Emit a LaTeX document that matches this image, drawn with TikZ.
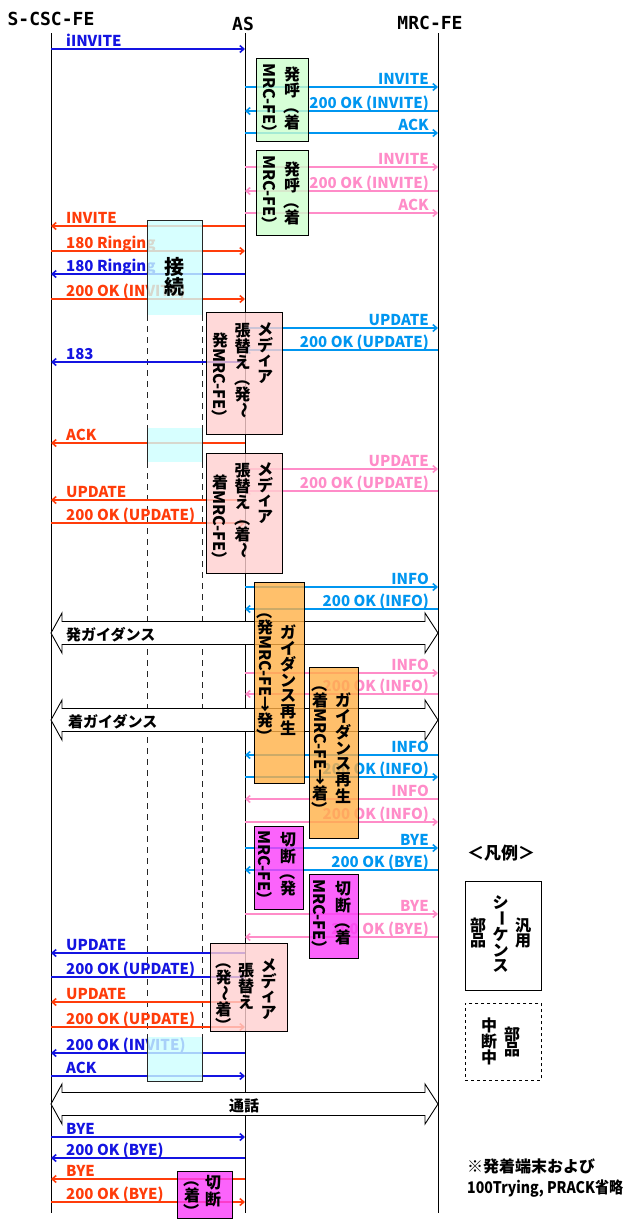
\documentclass[tikz,border=0pt]{standalone}
\usepackage{graphicx}
\usepackage{fontspec}
\setmainfont{Noto Sans CJK JP}
\newfontfamily\hdfont{DejaVu Sans Mono}
\usetikzlibrary{arrows.meta}

\definecolor{dblue}{RGB}{20,20,225}
\definecolor{lblue}{RGB}{0,150,240}
\definecolor{pink}{RGB}{255,140,200}
\definecolor{ored}{RGB}{255,60,10}
\definecolor{gfill}{RGB}{205,255,205}
\definecolor{cfill}{RGB}{205,255,255}
\definecolor{pfill}{RGB}{255,208,208}
\definecolor{ofill}{RGB}{255,176,70}
\definecolor{mfill}{RGB}{250,60,250}

\newcommand\labfont{\bfseries\fontsize{15}{18}\selectfont}
\newcommand\boxfont{\bfseries\fontsize{16}{19}\selectfont}
% vertical writing: upright char, rotated run, one column
\newcommand\vc[1]{\hbox to 1em{\hss\vbox to 1em{\vss\hbox{#1}\vss}\hss}}
\newcommand\vr[1]{\hbox to 1em{\hss\vbox{\hbox{\rotatebox[origin=c]{-90}{#1}}\kern0pt}\hss}}
\newcommand\tcol[2]{\vtop{\kern#1\offinterlineskip#2}}

\begin{document}
\begin{tikzpicture}
   [
      x=1pt, y=-1pt,
      >={Straight Barb[length=4pt,width=7pt]},
      lane/.style={line width=1pt},
      frame/.style={line width=0.9pt, black!85},
      msg/.style={->, line width=1.6pt},
      lab/.style={font=\labfont, inner sep=0pt},
      head/.style={font=\hdfont\bfseries\fontsize{18}{20}\selectfont, inner sep=0pt},
      part/.style={draw, line width=0.9pt, fill opacity=0.8, inner sep=0pt, anchor=north west},
      tate/.style={font=\boxfont, inner sep=0pt, anchor=north},
      big/.style={draw, line width=0.9pt, fill=white}
   ]
   \useasboundingbox (0,0) rectangle (632,1219);

   \node[head] (cschead) at (51,19) {S-CSC-FE};
   \node[head] (ashead) at (243,24) {AS};
   \node[head] (mrchead) at (430,23) {MRC-FE};

   \coordinate (csc) at (51,33);
   \coordinate (as) at (245,33);
   \coordinate (mrc) at (438,33);
   \foreach \n in {csc,as,mrc}
      \draw[lane] (\n) -- (\n |- 0,1213);

   \draw[frame, dash pattern=on 6pt off 5pt] (147,315) -- (147,428) (202,315) -- (202,428)
      (147,462) -- (147,1037) (202,462) -- (202,1037);

   \foreach \y/\src/\dst/\col/\txt [count=\i] in {49/csc/as/dblue/iINVITE,
      226/as/csc/ored/INVITE, 251/csc/as/ored/180 Ringing, 274/as/csc/dblue/180 Ringing,
      299/csc/as/ored/200 OK (INVITE), 362/as/csc/dblue/183, 443/as/csc/ored/ACK,
      500/as/csc/ored/UPDATE, 523/csc/as/ored/200 OK (UPDATE),
      953/as/csc/dblue/UPDATE, 977/csc/as/dblue/200 OK (UPDATE),
      1002/as/csc/ored/UPDATE, 1027/csc/as/ored/200 OK (UPDATE),
      1053/as/csc/dblue/200 OK (INVITE), 1076/csc/as/dblue/ACK,
      1137/csc/as/dblue/BYE, 1158/as/csc/dblue/200 OK (BYE),
      1179/as/csc/ored/BYE, 1202/csc/as/ored/200 OK (BYE)} {
      \draw[msg,\col] (\src |- 0,\y) -- (\dst |- 0,\y);
      \node[lab,\col,anchor=base west] (ml\i) at (66,\y-3) {\txt};
   }

   \foreach \y/\src/\dst/\col/\txt [count=\i] in {87/as/mrc/lblue/INVITE,
      111/mrc/as/lblue/200 OK (INVITE), 133/as/mrc/lblue/ACK,
      167/as/mrc/pink/INVITE, 191/mrc/as/pink/200 OK (INVITE), 213/as/mrc/pink/ACK,
      328/as/mrc/lblue/UPDATE, 350/mrc/as/lblue/200 OK (UPDATE),
      469/as/mrc/pink/UPDATE, 491/mrc/as/pink/200 OK (UPDATE),
      587/as/mrc/lblue/INFO, 609/mrc/as/lblue/200 OK (INFO),
      673/as/mrc/pink/INFO, 694/mrc/as/pink/200 OK (INFO),
      755/mrc/as/lblue/INFO, 777/as/mrc/lblue/200 OK (INFO),
      799/mrc/as/pink/INFO, 822/as/mrc/pink/200 OK (INFO),
      848/as/mrc/lblue/BYE, 870/mrc/as/lblue/200 OK (BYE),
      914/as/mrc/pink/BYE, 937/mrc/as/pink/200 OK (BYE)} {
      \draw[msg,\col] (\src |- 0,\y) -- (\dst |- 0,\y);
      \node[lab,\col,anchor=base east] (mr\i) at (429,\y-3) {\txt};
   }

   \foreach \y in {633,720,1104}
      \draw[big] (51,\y) -- (62,\y-20) -- (62,\y-11.5) -- (425,\y-11.5) -- (425,\y-20)
         -- (438,\y) -- (425,\y+20) -- (425,\y+11.5) -- (62,\y+11.5) -- (62,\y+20) -- cycle;
   \node[lab, anchor=base west] (guide1l) at (66,640) {発ガイダンス};
   \node[lab, anchor=base west] (guide2l) at (68,727) {着ガイダンス};
   \node[lab, anchor=base] (talkl) at (244,1111) {通話};

   \node[part, fill=gfill, minimum width=52, minimum height=83] (call1) at (256,58) {};
   \node[part, fill=gfill, minimum width=52, minimum height=85] (call2) at (256,150) {};
   \node[part, fill=cfill, draw=none, minimum width=55, minimum height=95] (conn1) at (147,220) {};
   \node[part, fill=cfill, draw=none, minimum width=55, minimum height=34] (conn2) at (147,428) {};
   \node[part, fill=cfill, draw=none, minimum width=55, minimum height=44] (conn3) at (147,1037) {};
   \node[part, fill=pfill, minimum width=76, minimum height=122] (media1) at (206,312) {};
   \node[part, fill=pfill, minimum width=76, minimum height=120] (media2) at (206,453) {};
   \node[part, fill=ofill, minimum width=50, minimum height=201] (guide1) at (254,582) {};
   \node[part, fill=ofill, minimum width=49, minimum height=171] (guide2) at (309,667) {};
   \node[part, fill=mfill, minimum width=49, minimum height=83] (cut1) at (254,826) {};
   \node[part, fill=mfill, minimum width=49, minimum height=84] (cut2) at (309,874) {};
   \node[part, fill=pfill, minimum width=77, minimum height=88] (media3) at (210,943) {};
   \node[part, fill=mfill, minimum width=55, minimum height=47] (cut3) at (177,1171) {};

   \draw[frame] (147,315) -- (147,220) -- (202,220) -- (202,315)
      (147,428) -- (147,462) (202,428) -- (202,462)
      (147,1037) -- (147,1081) -- (202,1081) -- (202,1037);

   \node[tate] (call1t) at (281,63) {\tcol{0pt}{\vr{MRC-FE）}}\kern6pt\tcol{3pt}{\vc{発}\vc{呼}\vr{（}\vc{着}}};
   \node[tate] (call2t) at (281,155) {\tcol{0pt}{\vr{MRC-FE）}}\kern6pt\tcol{6pt}{\vc{発}\vc{呼}\vr{（}\vc{着}}};
   \node[tate, font=\bfseries\fontsize{20}{24}\selectfont] (conn1t) at (174,257) {\tcol{0pt}{\vc{接}\vc{続}}};
   \node[tate] (media1t) at (242.5,321) {\tcol{11pt}{\vc{発}\vr{MRC-FE）}}\kern6.5pt\tcol{1pt}{\vc{張}\vc{替}\vc{え}\vr{（}\vc{発}\vr{〜}}\kern6.5pt\tcol{0pt}{\vc{メ}\vc{デ}\vc{ィ}\vc{ア}}};
   \node[tate] (media2t) at (242.5,461) {\tcol{13pt}{\vc{着}\vr{MRC-FE）}}\kern6.5pt\tcol{1pt}{\vc{張}\vc{替}\vc{え}\vr{（}\vc{着}\vr{〜}}\kern6.5pt\tcol{0pt}{\vc{メ}\vc{デ}\vc{ィ}\vc{ア}}};
   \node[tate] (guide1t) at (276.5,603) {\tcol{0pt}{\vr{（}\vc{発}\vr{MRC-FE}\vc{↓}\vc{発}\vr{）}}\kern7pt\tcol{21pt}{\vc{ガ}\vc{イ}\vc{ダ}\vc{ン}\vc{ス}\vc{再}\vc{生}}};
   \node[tate] (guide2t) at (331.5,676) {\tcol{0pt}{\vr{（}\vc{着}\vr{MRC-FE}\vc{↓}\vc{着}\vr{）}}\kern7pt\tcol{16pt}{\vc{ガ}\vc{イ}\vc{ダ}\vc{ン}\vc{ス}\vc{再}\vc{生}}};
   \node[tate] (cut1t) at (276.5,830) {\tcol{0pt}{\vr{MRC-FE）}}\kern7pt\tcol{2pt}{\vc{切}\vc{断}\vr{（}\vc{発}}};
   \node[tate] (cut2t) at (331.5,879) {\tcol{0pt}{\vr{MRC-FE）}}\kern7pt\tcol{2pt}{\vc{切}\vc{断}\vr{（}\vc{着}}};
   \node[tate] (media3t) at (246,953) {\tcol{0pt}{\vr{（}\vc{発}\vr{〜}\vc{着}\vr{）}}\kern6.5pt\tcol{9pt}{\vc{張}\vc{替}\vc{え}}\kern6.5pt\tcol{4pt}{\vc{メ}\vc{デ}\vc{ィ}\vc{ア}}};
   \node[tate] (cut3t) at (202.5,1171) {\tcol{0pt}{\vr{（}\vc{着}\vr{）}}\kern5pt\tcol{4pt}{\vc{切}\vc{断}}};

   \node[lab, font=\bfseries\fontsize{17}{20}\selectfont] (legend) at (501,853) {＜凡例＞};
   \node[part, fill=white, fill opacity=1, minimum width=76, minimum height=109] (generic) at (465,881) {};
   \node[part, fill=white, fill opacity=1, dashed, minimum width=76, minimum height=77] (paused) at (465,1003) {};
   \node[tate] (generict) at (500.5,894) {\tcol{23pt}{\vc{部}\vc{品}}\kern6.5pt\tcol{0pt}{\vc{シ}\vr{ー}\vc{ケ}\vc{ン}\vc{ス}}\kern6.5pt\tcol{23pt}{\vc{汎}\vc{用}}};
   \node[tate] (pausedt) at (500.5,1017) {\tcol{0pt}{\vc{中}\vc{断}\vc{中}}\kern7pt\tcol{9pt}{\vc{部}\vc{品}}};

   \node[lab, font=\bfseries\fontsize{16}{19}\selectfont, anchor=base west] (note1) at (467,1172) {※発着端末および};
   \node[lab, font=\bfseries\fontsize{16}{19}\selectfont, anchor=base west] (note2) at (467,1193) {\resizebox{156pt}{\height}{100Trying, PRACK省略}};
\end{tikzpicture}
\end{document}
